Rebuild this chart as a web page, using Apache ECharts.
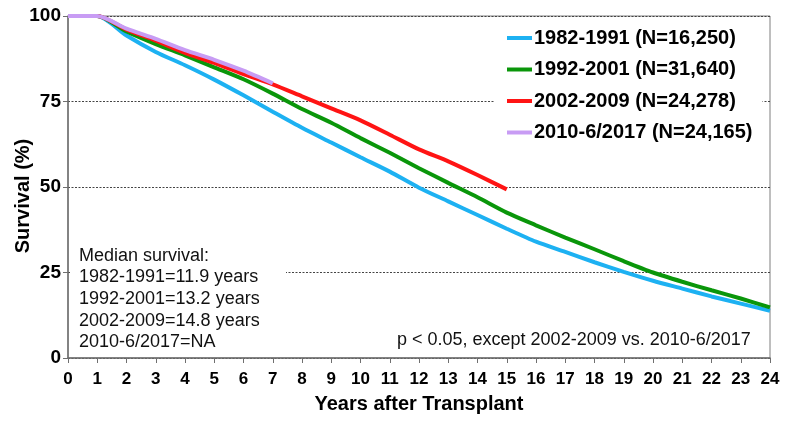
<!DOCTYPE html>
<html>
<head>
<meta charset="utf-8">
<script src="https://cdn.jsdelivr.net/npm/echarts@6/dist/echarts.min.js"></script>
<style>
  html, body { margin: 0; padding: 0; background: #fff; }
  #chart { width: 785px; height: 422px; }
</style>
</head>
<body>
<div id="chart"></div>
<script>
// Years after transplant (x positions of the survival estimates)
const years = [0, 1, 2, 3, 4, 5, 6, 7, 8, 9, 10, 11, 12, 13, 14, 15, 16, 17, 18, 19, 20, 21, 22, 23, 24];

// Survival (%) by transplant era
const era1982 = [100, 100, 94.3, 89.5, 85.6, 81.4, 76.8, 72.0, 67.3, 63.0, 58.7, 54.5, 49.8, 45.8, 41.8, 37.8, 34.0, 31.0, 28.0, 25.2, 22.6, 20.3, 18.0, 15.9, 13.8];
const era1992 = [100, 100, 95.5, 91.8, 88.5, 85.0, 81.5, 77.3, 72.8, 68.8, 64.3, 60.0, 55.5, 51.2, 47.0, 42.5, 38.8, 35.2, 31.8, 28.3, 25.0, 22.3, 19.8, 17.4, 14.8];
const era2002 = [100, 100, 96.0, 92.8, 89.2, 86.3, 83.0, 80.0, 76.5, 73.0, 69.5, 65.3, 61.0, 57.5, 53.5, 49.3];
const era2010 = [100, 100, 96.3, 93.3, 90.0, 87.2, 84.0, 80.3];

const seriesNames = [
  '1982-1991 (N=16,250)',
  '1992-2001 (N=31,640)',
  '2002-2009 (N=24,278)',
  '2010-6/2017 (N=24,165)'
];
const seriesColors = ['#1DB1F2', '#0A960A', '#FF1414', '#C89CF4'];
const seriesValues = [era1982, era1992, era2002, era2010];

const yTicks = [0, 25, 50, 75, 100];

const yTitle = 'Survival (%)';
const xTitle = 'Years after Transplant';
const medianLines = [
  'Median survival:',
  '1982-1991=11.9 years',
  '1992-2001=13.2 years',
  '2002-2009=14.8 years',
  '2010-6/2017=NA'
];
const pNote = 'p < 0.05, except 2002-2009 vs. 2010-6/2017';

const FONT = "'Liberation Sans', Arial, sans-serif";

const chart = echarts.init(document.getElementById('chart'), null, { renderer: 'canvas' });

const series = seriesValues.map((vals, i) => ({
  name: seriesNames[i],
  type: 'line',
  data: vals.map((v, k) => [years[k], v]),
  showSymbol: false,
  symbol: 'none',
  smooth: 0.25,
  lineStyle: { width: 4, color: seriesColors[i] },
  itemStyle: { color: seriesColors[i] },
  z: 3 + i
}));

const option = {
  animation: false,
  backgroundColor: '#fff',
  grid: {
    left: 68, right: 15, top: 16, bottom: 64,
    show: true, borderColor: '#7f7f7f', borderWidth: 1, backgroundColor: 'transparent'
  },
  xAxis: {
    type: 'value', min: 0, max: 24, interval: 1,
    name: xTitle,
    nameLocation: 'middle', nameGap: 36,
    nameTextStyle: { fontFamily: FONT, fontWeight: 'bold', fontSize: 20, color: '#000' },
    axisLine: { lineStyle: { color: '#6f6f6f', width: 1.5 } },
    axisTick: { show: true, length: 5, lineStyle: { color: '#6f6f6f' } },
    axisLabel: { margin: 13, fontFamily: FONT, fontWeight: 'bold', fontSize: 17, color: '#000' },
    splitLine: { show: false }
  },
  yAxis: {
    type: 'value', min: 0, max: 100, interval: 25,
    axisLine: { show: true, lineStyle: { color: '#6f6f6f', width: 1.5 } },
    axisTick: { show: true, length: 5, lineStyle: { color: '#6f6f6f' } },
    axisLabel: {
      margin: 7, fontFamily: FONT, fontWeight: 'bold', fontSize: 19, color: '#000',
      formatter: v => (yTicks.indexOf(v) >= 0 ? String(v) : '')
    },
    splitLine: { show: true, lineStyle: { color: '#444', width: 1, type: [2, 1.5] } }
  },
  legend: {
    orient: 'vertical',
    left: 495, top: 22,
    padding: [6, 10, 6, 12],
    backgroundColor: '#fff',
    itemWidth: 25, itemHeight: 4, itemGap: 11.5,
    icon: 'rect',
    textStyle: { fontFamily: FONT, fontWeight: 'bold', fontSize: 20, lineHeight: 20, color: '#000', padding: [0, 0, 0, -3] },
    data: seriesNames
  },
  graphic: [
    {
      type: 'text', z: 11, x: 23, y: 196, rotation: Math.PI / 2,
      style: { text: yTitle, font: 'bold 20px ' + FONT, fill: '#000', align: 'center', verticalAlign: 'middle' }
    },
    { type: 'rect', z: 10, shape: { x: 70, y: 244, width: 216, height: 108 }, style: { fill: '#fff' } },
    {
      type: 'text', z: 11, left: 79, top: 245,
      style: { text: medianLines.join('\n'), font: '18px ' + FONT, lineHeight: 21.6, fill: '#111' }
    },
    {
      type: 'text', z: 11, left: 397, top: 331,
      style: { text: pNote, font: '18px ' + FONT, fill: '#111' }
    }
  ],
  series: series
};

chart.setOption(option);
</script>
</body>
</html>
